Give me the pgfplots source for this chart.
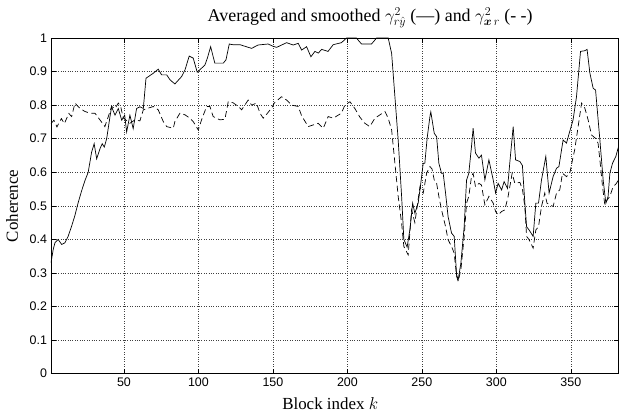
\documentclass[border=0pt]{standalone}
\usepackage{pgfplots}
\pgfplotsset{compat=1.18}
\usepackage{fontspec}
\usepackage{bm}
\setmainfont{Liberation Serif}
\setsansfont{Liberation Sans}
\begin{document}
\begin{tikzpicture}
\path[use as bounding box] (-51bp,-43bp) rectangle (568.5bp,374bp);
\begin{axis}[
  at={(0,0)}, anchor=south west,
  scale only axis, width=568bp, height=336bp,
  xmin=1, xmax=382, ymin=0, ymax=1,
  xtick={50,100,150,200,250,300,350},
  ytick={0,0.1,0.2,0.3,0.4,0.5,0.6,0.7,0.8,0.9,1},
  yticklabels={0,0.1,0.2,0.3,0.4,0.5,0.6,0.7,0.8,0.9,1},
  tick align=inside, tick pos=both, major tick length=5bp,
  grid=major, grid style={dotted, black!75, line width=0.6bp},
  axis line style={line width=0.9bp},
  tick style={line width=0.6bp, black},
  /pgf/number format/assume math mode=true,
  tick label style={font=\sffamily\fontsize{12.5}{14}\selectfont},
  xticklabel style={yshift=-1bp},
  yticklabel style={xshift=-0.5bp},
  xlabel={Block index $k$},
  ylabel={Coherence},
  every axis x label/.style={at={(axis description cs:0.492,-0.0893)}, anchor=center, font=\fontsize{17}{20}\selectfont},
  every axis y label/.style={at={(axis description cs:-0.0687,0.5)}, anchor=center, rotate=90, font=\fontsize{17}{20}\selectfont},
  title={Averaged and smoothed $\gamma^2_{r\hat y}$ (---) and $\gamma^2_{\bm{x}\,r}$ (- -)},
  every axis title/.style={font=\fontsize{18}{21}\selectfont, at={(axis description cs:0.5625,1.0595)}, anchor=center},
]
\addplot[black, line width=0.7bp] coordinates {
(1,0.33)(2.5,0.37)(3.7,0.39)(5.8,0.40)(8.2,0.385)(10.4,0.39)(12.6,0.41)(14.9,0.44)(17,0.47)(19.3,0.51)(21.6,0.545)(23.8,0.575)(26,0.60)(28.3,0.66)(30,0.685)(31.7,0.64)(33.9,0.67)(35.4,0.685)(36.8,0.675)(38.4,0.70)(40.6,0.765)(41.7,0.795)(44,0.77)(46.2,0.79)(48.5,0.755)(50.5,0.77)(51.8,0.72)(54,0.77)(56.2,0.73)(58.5,0.79)(60.7,0.795)(63,0.79)(64.8,0.88)(69.7,0.895)(73,0.907)(75.3,0.89)(78.7,0.89)(81,0.875)(84.2,0.863)(88.7,0.885)(91,0.905)(93.8,0.946)(96.5,0.94)(99.2,0.898)(102.1,0.91)(104.4,0.92)(106,0.94)(108.2,0.974)(111,0.925)(116.7,0.925)(118.5,0.935)(120.7,0.982)(123,0.98)(127.9,0.98)(130,0.977)(135.7,0.969)(140,0.979)(146.8,0.982)(150.2,0.975)(152.5,0.972)(159.2,0.986)(163.6,0.979)(167,0.984)(169.3,0.964)(172.6,0.974)(175.5,0.944)(178.2,0.96)(180.5,0.955)(182.7,0.966)(187,0.96)(190.5,0.98)(196,0.986)(199.5,1.0)(206,1.0)(209.5,0.982)(216.2,0.982)(219.6,1.0)(227.4,1.0)(229.7,0.954)(231.9,0.825)(234.1,0.696)(236.4,0.528)(237.9,0.40)(240.1,0.377)(242,0.43)(243.8,0.508)(245.3,0.478)(247.5,0.508)(249,0.557)(250.9,0.627)(252,0.627)(253.5,0.70)(255.4,0.766)(256,0.78)(258.3,0.716)(259.9,0.706)(261.4,0.627)(263.2,0.597)(264.3,0.597)(265.9,0.538)(267.6,0.468)(269.9,0.419)(271.7,0.409)(273.3,0.295)(274.4,0.28)(276.2,0.33)(278.4,0.438)(280,0.577)(281.5,0.597)(283.3,0.676)(284.4,0.731)(286,0.657)(288.3,0.642)(290,0.651)(292.3,0.577)(295,0.637)(297.9,0.577)(299.5,0.538)(301.2,0.567)(303.5,0.547)(305.2,0.572)(307.5,0.552)(309,0.627)(311.3,0.736)(312.9,0.637)(315.8,0.632)(317.5,0.62)(319.1,0.51)(320.3,0.438)(322,0.428)(324.7,0.409)(326.5,0.508)(328.3,0.508)(330.3,0.577)(333.2,0.647)(335.4,0.538)(338.1,0.587)(340.4,0.612)(342,0.617)(344.8,0.696)(347.1,0.687)(348.9,0.716)(351.5,0.756)(353.8,0.825)(356.5,0.96)(359.4,0.962)(360.9,0.966)(362.8,0.895)(365,0.85)(366.6,0.845)(369.5,0.696)(371.7,0.577)(373.5,0.508)(375,0.528)(376.2,0.597)(378,0.627)(380.2,0.647)(382,0.676)
};
\addplot[black, line width=0.7bp, dash pattern=on 6bp off 3.5bp] coordinates {
(1,0.745)(3,0.755)(5,0.735)(8,0.76)(10,0.745)(13,0.775)(14.9,0.766)(17.1,0.806)(20.5,0.79)(23.8,0.781)(27.2,0.776)(30.5,0.776)(33.9,0.756)(37.2,0.736)(39.5,0.766)(41.7,0.796)(44,0.79)(46.2,0.806)(47.8,0.796)(49.5,0.762)(54,0.746)(57.4,0.756)(60.7,0.753)(63,0.786)(66.3,0.791)(69.7,0.796)(73,0.786)(76.4,0.751)(78.7,0.736)(83.1,0.731)(84.2,0.751)(87.6,0.776)(91,0.771)(94.3,0.761)(96.5,0.751)(99.9,0.726)(102.1,0.756)(105.5,0.796)(107.7,0.796)(109.9,0.766)(114.4,0.756)(117.8,0.758)(120,0.81)(123.3,0.807)(126.7,0.796)(129,0.786)(133.4,0.815)(135.7,0.80)(139,0.806)(141.3,0.776)(143.5,0.761)(145.8,0.773)(149.1,0.791)(150.9,0.806)(155.8,0.825)(159.2,0.815)(162.6,0.80)(167,0.796)(169.3,0.768)(173.7,0.736)(177,0.741)(180.4,0.746)(183.8,0.731)(187.1,0.766)(190.5,0.761)(191.6,0.764)(196,0.776)(198.3,0.80)(201.7,0.81)(205,0.79)(208.4,0.764)(211.7,0.746)(215,0.736)(218.5,0.761)(221.8,0.771)(225.2,0.781)(227.4,0.761)(229.7,0.726)(231.9,0.627)(234.1,0.528)(236.4,0.448)(237.9,0.379)(240.8,0.354)(243.1,0.488)(245.3,0.45)(248.7,0.557)(250.9,0.538)(253.2,0.597)(255.4,0.617)(256.8,0.61)(258.3,0.577)(259.9,0.567)(261.4,0.528)(263.2,0.488)(264.3,0.468)(265.9,0.438)(267.6,0.399)(269.9,0.379)(271.7,0.359)(273.3,0.29)(274.4,0.275)(276.2,0.31)(278.4,0.409)(280,0.508)(281.5,0.528)(283.3,0.587)(284.4,0.597)(286,0.557)(288.3,0.567)(290,0.562)(292.3,0.503)(295,0.528)(297.9,0.508)(299.5,0.483)(301.2,0.473)(303.5,0.483)(305.7,0.488)(307.9,0.528)(310.6,0.597)(312.4,0.567)(315.8,0.57)(317.6,0.547)(319.1,0.498)(320.3,0.409)(322,0.399)(324.7,0.374)(326.5,0.428)(328.3,0.438)(330.3,0.498)(332.5,0.538)(334,0.508)(335.9,0.503)(338.1,0.498)(340.4,0.538)(342.6,0.548)(344.4,0.597)(347.1,0.587)(349.3,0.597)(351.1,0.637)(352.6,0.667)(354.9,0.736)(357.2,0.806)(359.4,0.791)(361.6,0.756)(363.9,0.711)(366.6,0.701)(368.3,0.686)(369.5,0.637)(371.3,0.557)(372.8,0.503)(374.5,0.518)(376.2,0.528)(378.4,0.557)(380.6,0.567)(382,0.577)
};
\end{axis}
\end{tikzpicture}
\end{document}
